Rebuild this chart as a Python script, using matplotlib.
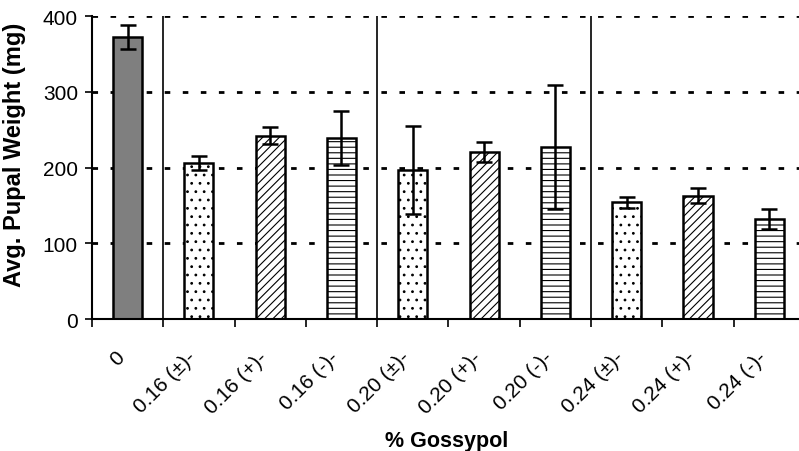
import numpy as np
import matplotlib.pyplot as plt
import matplotlib.transforms as mtransforms

plt.rcParams['font.family'] = ['Liberation Sans', 'DejaVu Sans']
plt.rcParams['hatch.linewidth'] = 0.8

# values
labels = ['0', '0.16 (\u00b1)-', '0.16 (+)-', '0.16 (-)-',
          '0.20 (\u00b1)-', '0.20 (+)-', '0.20 (-)-',
          '0.24 (\u00b1)-', '0.24 (+)-', '0.24 (-)-']
weights = [372, 206, 242, 239, 197, 221, 227, 154, 163, 132]
errors = [16, 9, 11, 36, 58, 13, 82, 7, 10, 13]
hatches = [None, '..', '////', '---', '..', '////', '---', '..', '////', '---']
group_edges = [0.5, 3.5, 6.5]

fig = plt.figure(figsize=(7.99, 4.52), dpi=100)
ax = fig.add_axes([0.115, 0.292, 0.889, 0.670])

x = np.arange(len(weights))

# dotted horizontal grid
for yv in [100, 200, 300, 400]:
    ax.axhline(yv, color='black', lw=2, linestyle=(0, (2, 4.5)), zorder=0)

for xe in group_edges:
    ax.axvline(xe, color='black', lw=1.2, zorder=1)

for i in x:
    fc = '#7f7f7f' if hatches[i] is None else 'white'
    ax.bar(i, weights[i], width=0.41, facecolor=fc, edgecolor='black',
           linewidth=1.8, hatch=hatches[i], zorder=2)

ax.errorbar(x, weights, yerr=errors, fmt='none', ecolor='black',
            elinewidth=1.8, capsize=6, capthick=1.8, zorder=3)

ax.set_xlim(-0.5, 9.46)
ax.set_ylim(0, 400)
ax.set_yticks([0, 100, 200, 300, 400])
ax.tick_params(axis='y', labelsize=15, length=5, width=1.2, pad=5,
               direction='out')

ax.set_xticks(x)
ax.set_xticklabels(labels, rotation=45, ha='right', va='center',
                   rotation_mode='anchor', fontsize=15)
ax.tick_params(axis='x', which='major', length=0, pad=25)
shift = mtransforms.ScaledTranslation(-0.06, 0, fig.dpi_scale_trans)
for lab in ax.get_xticklabels():
    lab.set_transform(lab.get_transform() + shift)
ax.set_xticks(np.arange(-0.5, 9.5, 1.0), minor=True)
ax.tick_params(axis='x', which='minor', length=6, width=1.2, direction='out')

for s in ['top', 'right']:
    ax.spines[s].set_visible(False)
ax.spines['left'].set_linewidth(1.5)
ax.spines['bottom'].set_linewidth(1.5)

ax.set_ylabel('Avg. Pupal Weight (mg)', fontsize=17, fontweight='bold')
ax.yaxis.set_label_coords(-0.093, 0.545)
ax.set_xlabel('% Gossypol', fontsize=15.5, fontweight='bold')
ax.xaxis.set_label_coords(0.5, -0.366)

fig.savefig('out.png', dpi=100)
